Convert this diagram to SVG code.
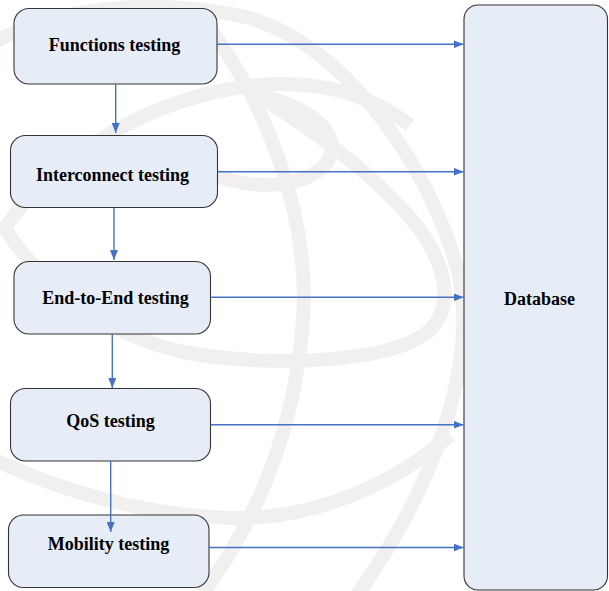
<svg xmlns="http://www.w3.org/2000/svg" width="609" height="591" viewBox="0 0 609 591">
  <style>
    .wm { fill: none; stroke: #f1f0ef; stroke-width: 14; stroke-linecap: butt; stroke-linejoin: miter; }
    .box { fill: #e7edf7; stroke: #333333; stroke-width: 1.1; }
    .lbl { font-family: "Liberation Serif", "Times New Roman", serif; font-weight: bold; font-size: 18px; fill: #000000; text-anchor: middle; }
    .link { fill: none; stroke: #4472c4; stroke-width: 1.4; marker-end: url(#head); }
  </style>
  <defs>
    <marker id="head" markerUnits="userSpaceOnUse" markerWidth="10" markerHeight="8" refX="10" refY="4" orient="auto">
      <path d="M0,0 L10,4 L0,8 z" fill="#4472c4"/>
    </marker>
  </defs>

  <rect width="609" height="591" fill="#ffffff"/>

  <!-- faint globe watermark behind the chart -->
  <g id="watermark">
    <path class="wm" d="M -5,42 C 50,10 150,-5 250,18 C 340,45 420,150 455,260 C 482,350 440,480 355,598"/>
    <path class="wm" d="M 200,15 C 270,105 310,220 303,320 C 296,420 262,515 198,600"/>
    <path class="wm" d="M 410,125 C 370,95 320,80 260,85 C 150,95 50,160 5,228 C 30,270 100,340 200,355 C 270,365 390,365 430,330 C 455,305 445,265 420,230 C 390,190 330,140 265,100"/>
    <path class="wm" d="M 205,172 C 250,190 300,190 325,165 C 345,140 320,108 255,95"/>
    <path class="wm" d="M -5,460 C 60,490 140,515 230,518 C 320,520 400,480 450,435"/>
  </g>

  <g id="functions">
    <rect class="box" x="14" y="8.5" width="203" height="75.5" rx="15"/>
    <text class="lbl" x="114.5" y="51">Functions testing</text>
  </g>
  <g id="interconnect">
    <rect class="box" x="10.5" y="135.5" width="207" height="72" rx="15"/>
    <text class="lbl" x="112.5" y="180.5">Interconnect testing</text>
  </g>
  <g id="endtoend">
    <rect class="box" x="14" y="261.5" width="196.5" height="72.5" rx="15"/>
    <text class="lbl" x="115.5" y="303.5">End-to-End testing</text>
  </g>
  <g id="qos">
    <rect class="box" x="10.5" y="388.5" width="200" height="72.5" rx="15"/>
    <text class="lbl" x="110.5" y="427">QoS testing</text>
  </g>
  <g id="mobility">
    <rect class="box" x="8.5" y="515" width="200.5" height="72.5" rx="15"/>
    <text class="lbl" x="108.5" y="550">Mobility testing</text>
  </g>
  <g id="database">
    <rect class="box" x="464" y="5" width="143.5" height="585" rx="14"/>
    <text class="lbl" x="539.5" y="305">Database</text>
  </g>

  <g id="connectors">
    <path class="link" d="M 115.7,84 L 115.7,133"/>
    <path class="link" d="M 114,207.5 L 114,260"/>
    <path class="link" d="M 112.3,334 L 112.3,388"/>
    <path class="link" d="M 110.7,461 L 110.7,532"/>
    <path class="link" d="M 217,44.3 L 463.5,44.3"/>
    <path class="link" d="M 217.5,171.7 L 463.5,171.7"/>
    <path class="link" d="M 210.5,297.3 L 463.5,297.3"/>
    <path class="link" d="M 210.5,424.7 L 463.5,424.7"/>
    <path class="link" d="M 209,547.5 L 463.5,547.5"/>
  </g>
</svg>
